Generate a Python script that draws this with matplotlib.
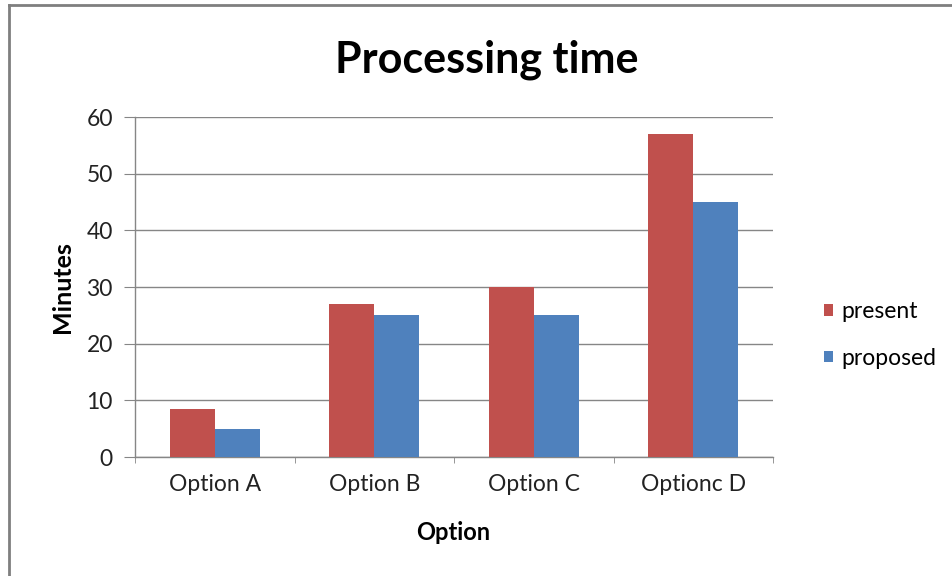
import matplotlib.pyplot as plt
from matplotlib.lines import Line2D
import numpy as np

# chart data
categories = ["Option A", "Option B", "Option C", "Optionc D"]
present = [8.5, 27, 30, 57]
proposed = [5, 25, 25, 45]
series_names = ["present", "proposed"]
yticks = [0, 10, 20, 30, 40, 50, 60]

plt.rcParams['font.family'] = ['Lato', 'DejaVu Sans']

W, H = 952, 576
fig = plt.figure(figsize=(W / 100, H / 100), dpi=100)
ax = fig.add_axes([135 / W, 1 - 457 / H, (773 - 135) / W, (457 - 117) / H])

x = np.arange(len(categories))
bw = 0.282
ax.bar(x - bw / 2, present, bw, color="#C0504D", label=series_names[0], zorder=3)
ax.bar(x + bw / 2, proposed, bw, color="#4F81BD", label=series_names[1], zorder=3)

ax.set_xlim(-0.5, len(categories) - 0.5)
ax.set_ylim(0, 60)
ax.set_yticks(yticks)
ax.set_xticks(x)
ax.set_xticklabels(categories, fontsize=16.5, color="#222222")
ax.set_xticks(np.arange(len(categories) + 1) - 0.5, minor=True)
ax.tick_params(axis="x", which="major", length=0, pad=12)
ax.tick_params(axis="x", which="minor", length=4, color="#868686")
ax.tick_params(axis="y", length=8, color="#868686", labelsize=16.5, labelcolor="#222222", pad=8)

ax.grid(axis="y", color="#868686", linewidth=1, zorder=0)
for s in ["top", "right"]:
    ax.spines[s].set_visible(False)
for s in ["left", "bottom"]:
    ax.spines[s].set_color("#868686")
    ax.spines[s].set_linewidth(1)

fig.text(487 / W, 1 - 60 / H, "Processing time", ha="center", va="center",
         fontsize=31, fontweight="bold")
fig.text(62 / W, 1 - 287 / H, "Minutes", ha="center", va="center", rotation=90,
         fontsize=18, fontweight="bold")
fig.text(453 / W, 1 - 532 / H, "Option", ha="center", va="center",
         fontsize=17, fontweight="bold")

ax.legend(loc="center left", bbox_to_anchor=(824 / W, 1 - 335 / H),
          bbox_transform=fig.transFigure, frameon=False, fontsize=16.5,
          handlelength=0.4, handleheight=0.4, handletextpad=0.35,
          labelspacing=1.1, borderpad=0, borderaxespad=0)

# outer chart border (only left and top edges visible in the crop)
fig.add_artist(Line2D([9 / W, 9 / W], [0, 1 - 5 / H], color="#7f7f7f", linewidth=2,
                      transform=fig.transFigure))
fig.add_artist(Line2D([9 / W, 1], [1 - 5 / H, 1 - 5 / H], color="#7f7f7f", linewidth=2,
                      transform=fig.transFigure))

fig.savefig("out.png", dpi=100)
